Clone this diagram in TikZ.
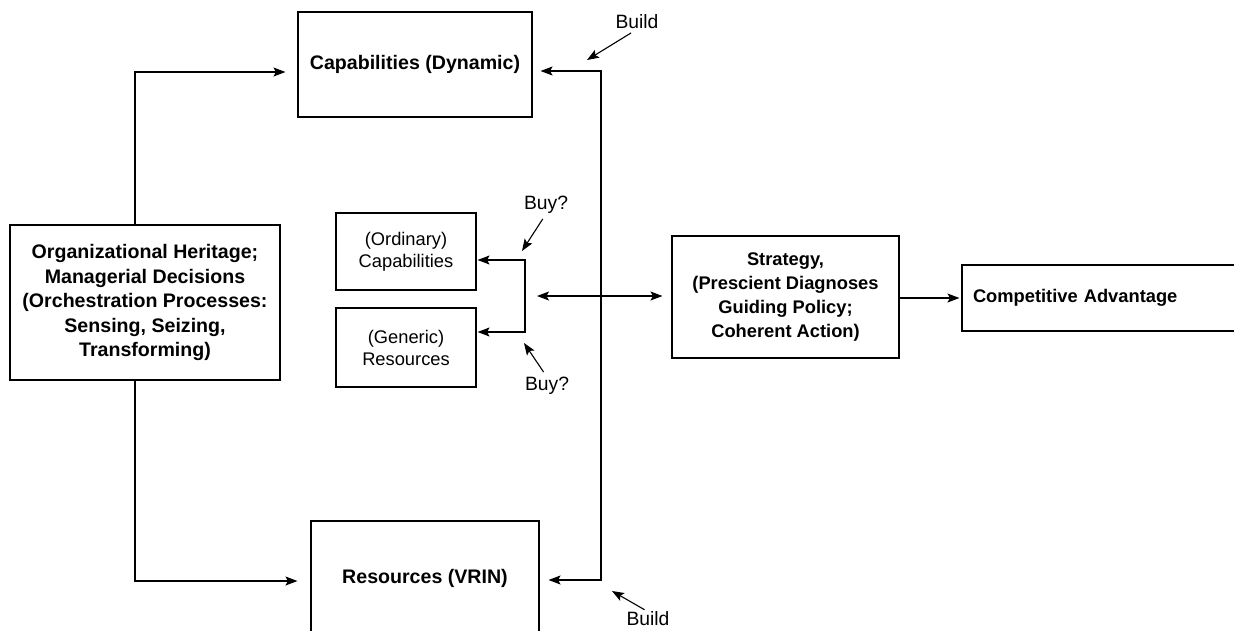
\documentclass[tikz,border=0pt]{standalone}
\usepackage{fontspec}
\setmainfont{Liberation Sans}
\usetikzlibrary{arrows.meta}
\begin{document}
\begin{tikzpicture}[x=1pt,y=-1pt,
  box/.style={draw,line width=1.1pt,rectangle,inner sep=0pt,align=center},
  big/.style={font=\fontsize{19.6}{24.5}\selectfont\bfseries},
  mid/.style={font=\fontsize{18.3}{24}\selectfont\bfseries},
  small/.style={font=\fontsize{18.3}{22}\selectfont},
  lbl/.style={font=\fontsize{19.3}{23}\selectfont,inner sep=0pt},
  conn/.style={line width=1.1pt,-{Stealth[length=12pt,width=9pt,inset=2.5pt]}},
  conn2/.style={line width=1.1pt,{Stealth[length=12pt,width=9pt,inset=2.5pt]}-{Stealth[length=12pt,width=9pt,inset=2.5pt]}}
]
\useasboundingbox (0,0) rectangle (1234,630);
% boxes
\node[box,big,minimum width=234pt,minimum height=105pt] (cap) at (415,64.5) {Capabilities (Dynamic)};
\node[box,big,minimum width=228pt,minimum height=115pt] (res) at (425,578.5) {Resources (VRIN)};
\node[box,big,minimum width=270pt,minimum height=155pt] (org) at (145,302.5)
  {Organizational Heritage;\\Managerial Decisions\\(Orchestration Processes:\\Sensing, Seizing,\\Transforming)};
\node[box,small,minimum width=140pt,minimum height=77pt] (ord) at (406,251.5) {(Ordinary)\\Capabilities};
\node[box,small,minimum width=140pt,minimum height=79pt] (gen) at (406,347.5) {(Generic)\\Resources};
\node[box,mid,minimum width=227pt,minimum height=122pt] (str) at (785.5,297)
  {Strategy,\\(Prescient Diagnoses\\Guiding Policy;\\Coherent Action)};
\node[box,mid,minimum width=280pt,minimum height=66pt,align=left,text width=258pt,inner xsep=11pt] (comp) at (1102,298) {Competitive Advantage};
% labels
\node[lbl] (btop) at (637,22) {Build};
\node[lbl] (bbot) at (648,619) {Build};
\node[lbl] (buyt) at (546,205) {Buy?};
\node[lbl] (buyb) at (547,386) {Buy?};
% coordinates
\coordinate (lt) at (135,72);
\coordinate (lb) at (135,581);
\coordinate (rt) at (601,71);
\coordinate (rb) at (601,580);
\coordinate (bt) at (525,260);
\coordinate (bb) at (525,332);
\coordinate (dl) at (537,296);
\coordinate (btopend) at (587,60);
\coordinate (bbotend) at (612,591);
\coordinate (buytend) at (522,251);
\coordinate (buybend) at (524,343);
% connectors
\draw[conn,shorten >=12pt] (org.north -| lt) -- (lt) -- (cap.west |- lt);
\draw[conn,shorten >=13pt] (org.south -| lb) -- (lb) -- (res.west |- lb);
\draw[conn2,shorten <=8pt,shorten >=9pt] (cap.east |- rt) -- (rt) -- (rb) -- (res.east |- rb);
\draw[conn2,shorten <=1pt,shorten >=1pt] (ord.east |- bt) -- (bt) -- (bb) -- (gen.east |- bb);
\draw[conn2,shorten >=9pt] (dl) -- (str.west |- dl);
\draw[conn,shorten >=2pt] (str.east |- comp.west) -- (comp.west);
\draw[conn,shorten <=7pt] (btop.south) -- (btopend);
\draw[conn,shorten <=4pt] (bbot.north) -- (bbotend);
\draw[conn,shorten <=6pt] (buyt.south) -- (buytend);
\draw[conn,shorten <=6pt] (buyb.north) -- (buybend);
\end{tikzpicture}
\end{document}
